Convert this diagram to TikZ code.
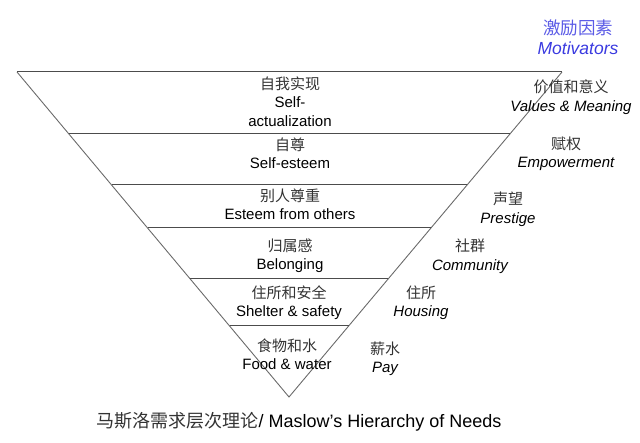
\documentclass[tikz,border=0pt]{standalone}
\usepackage{fontspec}
\setmainfont{Liberation Sans}
\newfontfamily\cjk{Noto Sans CJK SC}
\usetikzlibrary{calc}
\definecolor{zhgray}{HTML}{333333}
\definecolor{edgegray}{HTML}{6A6A6A}
\definecolor{motblue}{HTML}{3A3AE0}
\definecolor{motbluezh}{HTML}{5A5AE6}
\tikzset{
  lvl/.style={align=center,inner sep=0pt,font=\fontsize{15}{18.5}\selectfont},
  side/.style={align=center,inner sep=0pt,font=\fontsize{15}{18.5}\selectfont},
  edge/.style={draw=edgegray,line width=0.9pt},
  rung/.style={draw=black!70,line width=1pt},
}
\newcommand{\zh}[1]{{\cjk\color{zhgray}#1}}
\begin{document}
\begin{tikzpicture}[x=1pt,y=-1pt]
\useasboundingbox (0,0) rectangle (640,443);
\coordinate (TL) at (17,72);
\coordinate (TR) at (562,72);
\coordinate (A) at (289,397);
\draw[edge] (TL) -- (A) -- (TR);
\draw[rung] (TL) -- (TR);
\foreach \yy [count=\i] in {134,185,228,279,326}{
  \coordinate (L\i) at ($(TL)!{(\yy-72)/325}!(A)$);
  \coordinate (R\i) at ($(TR)!{(\yy-72)/325}!(A)$);
  \draw[rung] (L\i) -- (R\i);
}
% level labels
\node[lvl] (l1) at (290,101.5) {\zh{自我实现}\\Self-\\actualization};
\node[lvl] (l2) at (290,153.5) {\zh{自尊}\\Self-esteem};
\node[lvl] (l3) at (290,204.5) {\zh{别人尊重}\\Esteem from others};
\node[lvl] (l4) at (290,255.5) {\zh{归属感}\\Belonging};
\node[lvl] (l5) at (289,302.5) {\zh{住所和安全}\\Shelter \& safety};
\node[lvl] (l6) at (287,354) {\zh{食物和水}\\Food \& water};
% motivators
\node[side,font=\fontsize{17.5}{20.5}\selectfont] (m0) at (578,37) {{\cjk\color{motbluezh}激励因素}\\{\color{motblue}\itshape Motivators}};
\node[side] (m1) at (571,97) {\zh{价值和意义}\\\itshape Values \& Meaning};
\node[side] (m2) at (566,154) {\zh{赋权}\\\itshape Empowerment};
\node[side] (m3) at (508,209) {\zh{声望}\\\itshape Prestige};
\node[side] (m4) at (470,256) {\zh{社群}\\\itshape Community};
\node[side] (m5) at (421,302.5) {\zh{住所}\\\itshape Housing};
\node[side] (m6) at (385,359) {\zh{薪水}\\\itshape Pay};
% title
\node[inner sep=0pt,anchor=base,font=\fontsize{18}{21}\selectfont] (title) at (299,428) {{\cjk\color{zhgray}马斯洛需求层次理论}/ Maslow’s Hierarchy of Needs};
\end{tikzpicture}
\end{document}
